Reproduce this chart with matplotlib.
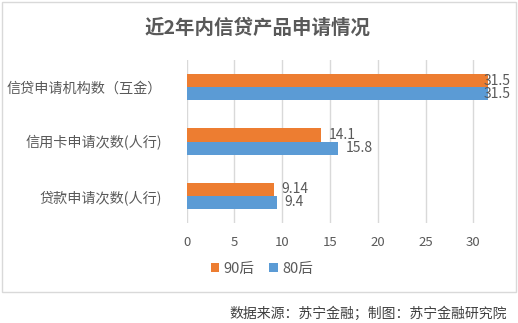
import matplotlib
matplotlib.use("Agg")
import matplotlib.pyplot as plt
from matplotlib.patches import Rectangle, Patch
import numpy as np

plt.rcParams['font.family'] = ['Noto Sans CJK SC', 'DejaVu Sans']

categories = ['信贷申请机构数（互金）', '信用卡申请次数(人行)', '贷款申请次数(人行)']
series_names = ['90后', '80后']
values_90 = [31.5, 14.1, 9.14]
values_80 = [31.5, 15.8, 9.4]
labels_90 = ['31.5', '14.1', '9.14']
labels_80 = ['31.5', '15.8', '9.4']
xticks = [0, 5, 10, 15, 20, 25, 30]

c90 = '#ED7D31'
c80 = '#5B9BD5'
text_col = '#595959'

W, H = 518, 323
fig = plt.figure(figsize=(W / 100, H / 100), dpi=100)
fig.patch.set_facecolor('white')

# chart frame
fig.patches.append(Rectangle((2 / W, 1 - 292 / H), 514 / W, 290 / H,
                             transform=fig.transFigure, fill=False,
                             edgecolor='#D9D9D9', linewidth=1.0))

left, right = 186.7, 502.0
top, bottom = 60.0, 223.0
ax = fig.add_axes([left / W, 1 - bottom / H, (right - left) / W, (bottom - top) / H])

xmax = 33
y = np.arange(len(categories))[::-1].astype(float)
h = 0.24
ax.barh(y + h / 2, values_90, height=h, color=c90, zorder=3)
ax.barh(y - h / 2, values_80, height=h, color=c80, zorder=3)


def value_label(v, yy, s):
    # labels that would run past the plot area are pulled back inside it
    if v + 0.8 + 2.4 > xmax + 0.8:
        ax.text(1.026, yy, s, transform=ax.get_yaxis_transform(), va='center', ha='right',
                fontsize=10, color=text_col, zorder=4)
    else:
        ax.text(v + 0.8, yy, s, va='center', ha='left', fontsize=10, color=text_col, zorder=4)


for yi, v, s in zip(y, values_90, labels_90):
    value_label(v, yi + h / 2, s)
for yi, v, s in zip(y, values_80, labels_80):
    value_label(v, yi - h / 2, s)

ax.set_xlim(0, xmax)
ax.set_ylim(-0.5, len(categories) - 0.5)
ax.set_xticks(xticks)
ax.set_xticklabels([str(t) for t in xticks], fontsize=9.5, color=text_col)
ax.set_yticks(y)
ax.set_yticklabels(categories, fontsize=10.2, color=text_col)
ax.tick_params(axis='y', length=0, pad=18)
ax.tick_params(axis='x', length=0, pad=9)
ax.grid(axis='x', color='#D9D9D9', linewidth=1.0, zorder=0)
for sp in ax.spines.values():
    sp.set_visible(False)

fig.text(258 / W, 1 - 28 / H, '近2年内信贷产品申请情况', ha='center', va='center',
         fontsize=14, fontweight='bold', color=text_col)

handles = [Patch(facecolor=c90, edgecolor='none'), Patch(facecolor=c80, edgecolor='none')]
fig.legend(handles, series_names, loc='center', bbox_to_anchor=(262 / W, 1 - 269 / H),
           ncol=2, frameon=False, fontsize=10.5, labelcolor=text_col,
           handlelength=0.6, handleheight=0.6, handletextpad=0.3, columnspacing=1.0)

fig.text(507 / W, 1 - 314 / H, '数据来源：苏宁金融；制图：苏宁金融研究院', ha='right', va='center',
         fontsize=10, color='#404040', style='italic')

fig.savefig('out.png', dpi=100)
